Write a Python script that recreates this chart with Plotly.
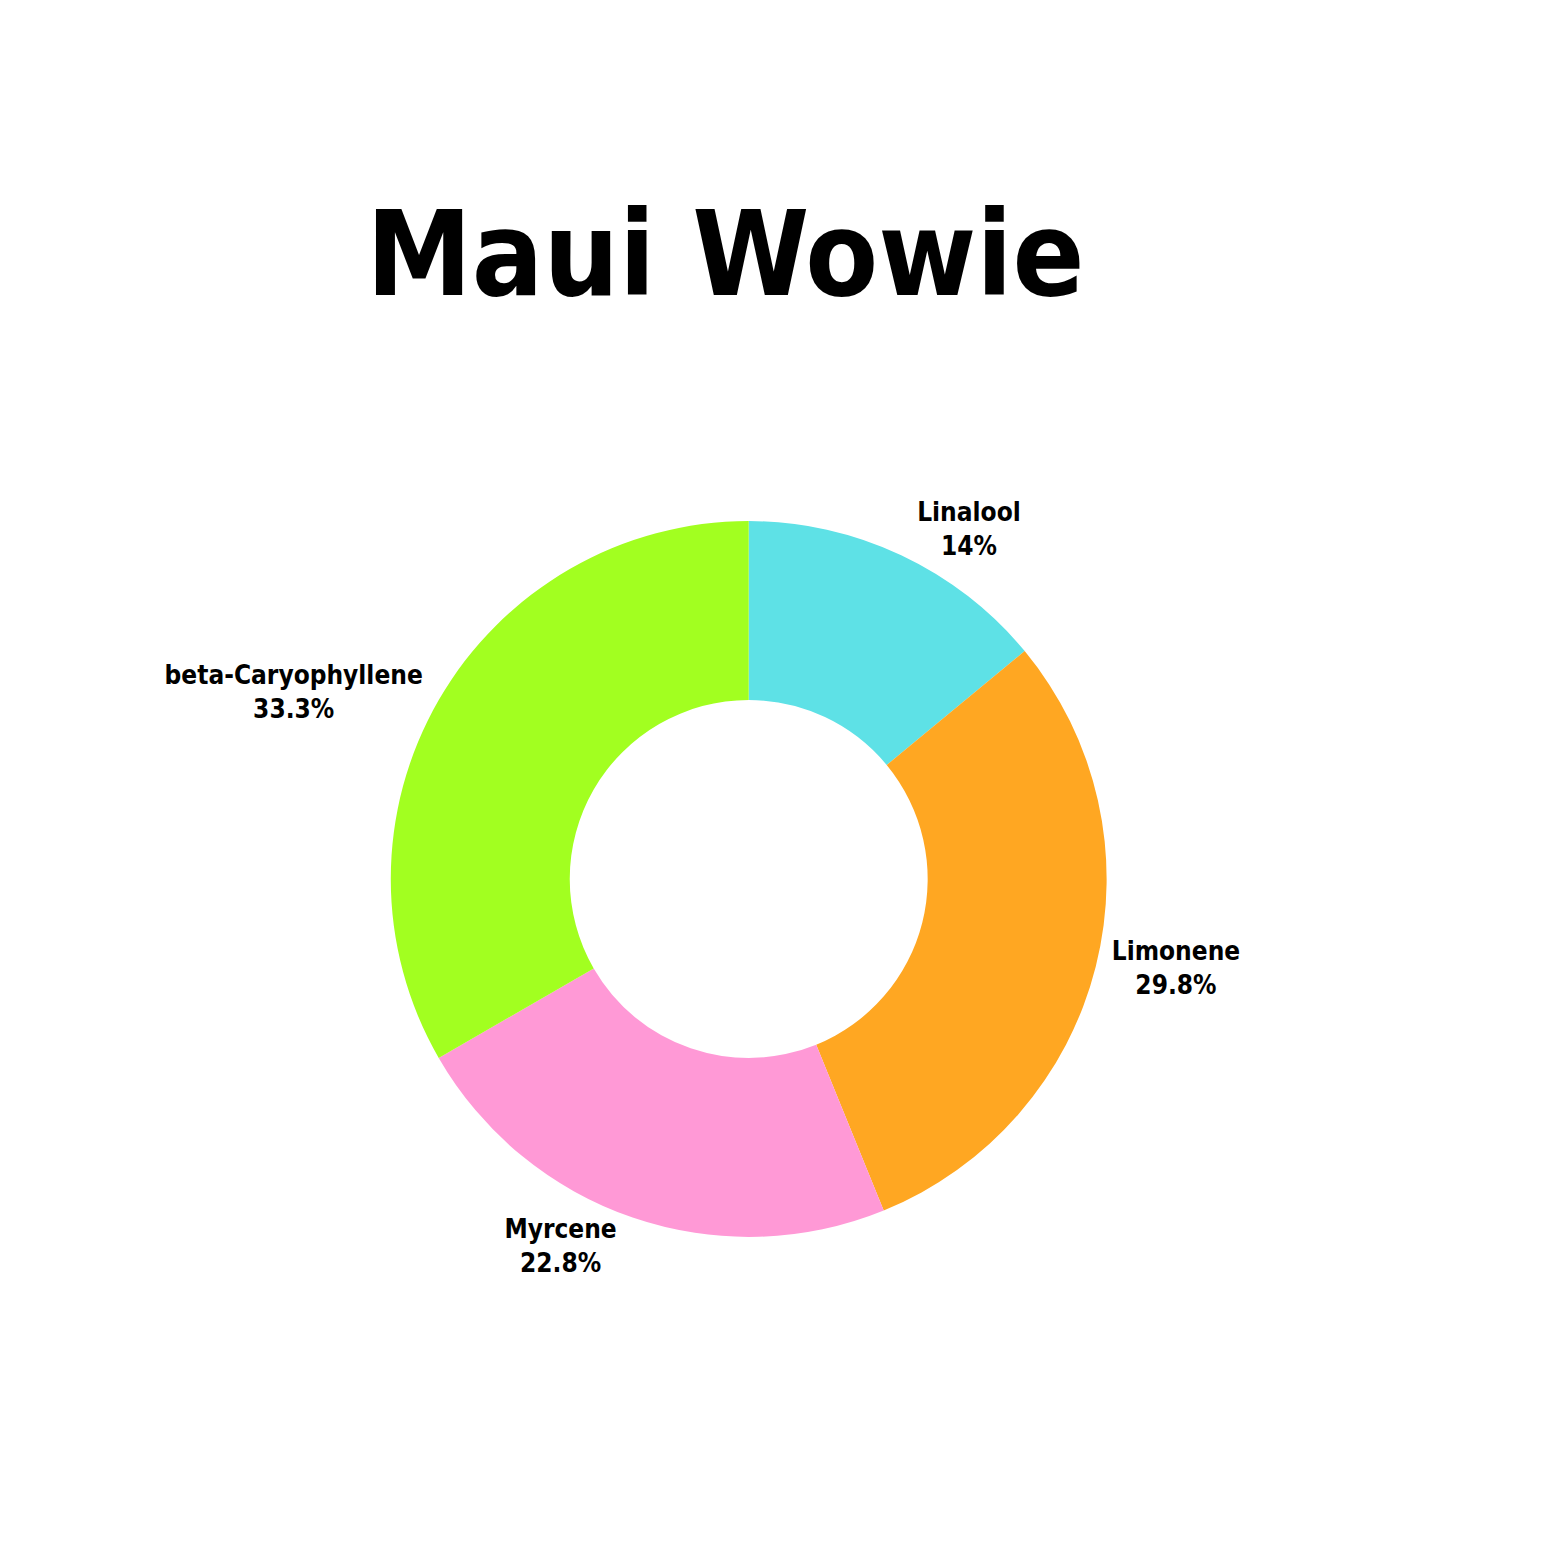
import plotly.graph_objects as go

# terpene profile for the strain
terpenes = ["Linalool", "Limonene", "Myrcene", "beta-Caryophyllene"]
shares = [14.0, 29.8, 22.8, 33.3]
slice_colors = ["#5EE1E6", "#FFA722", "#FF99D6", "#A2FF20"]

fig = go.Figure(go.Pie(
	labels=terpenes,
	values=shares,
	hole=0.5,
	sort=False,
	direction="clockwise",
	rotation=0,
	marker=dict(colors=slice_colors, line=dict(width=0)),
	textposition="outside",
	texttemplate="%{label}<br>%{value}%",
	textfont=dict(family="DejaVu Sans Condensed, DejaVu Sans", size=26, color="black", weight="bold"),
	showlegend=False,
	domain=dict(x=[0.2449, 0.7029], y=[0.2137, 0.6718]),
))

fig.update_layout(
	width=1563, height=1563,
	paper_bgcolor="white", plot_bgcolor="white",
	margin=dict(l=0, r=0, t=0, b=0),
	title=dict(text="Maui Wowie", x=0.459, xanchor="center", y=0.843, yanchor="middle",
		font=dict(family="DejaVu Sans Condensed, DejaVu Sans", size=118, color="black", weight="bold")),
)

fig.write_html("out.html")
